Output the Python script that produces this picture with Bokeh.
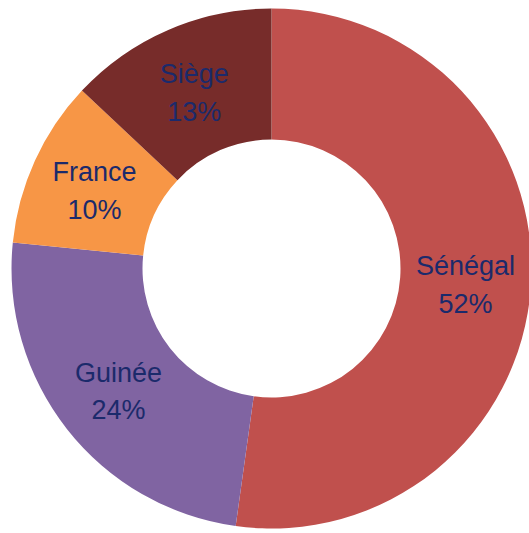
import math
from bokeh.plotting import figure
from bokeh.models import ColumnDataSource
from bokeh.core.properties import value
from bokeh.embed import file_html
from bokeh.resources import INLINE

categories = ["Sénégal", "Guinée", "France", "Siège"]
shares = [52.2, 24.4, 10.4, 13.0]
colors = ["#C0504D", "#8064A2", "#F79646", "#772C2A"]

W, H = 529, 533
cx, cy = 271, H - 268
r_out, r_in = 260, 129

total = sum(shares)
starts, ends, lx, ly, labels = [], [], [], [], []
cum = 0.0
for c, s in zip(categories, shares):
    a0 = math.pi / 2 - cum / total * 2 * math.pi
    cum += s
    a1 = math.pi / 2 - cum / total * 2 * math.pi
    starts.append(a0)
    ends.append(a1)
    mid = (a0 + a1) / 2
    rm = (r_out + r_in) / 2
    lx.append(cx + rm * math.cos(mid))
    ly.append(cy + rm * math.sin(mid) - 3)
    labels.append(f"{c}\n{round(s / total * 100):d}%")

src = ColumnDataSource(dict(start=starts, end=ends, color=colors,
                            lx=lx, ly=ly, label=labels))

p = figure(width=W, height=H, x_range=(0, W), y_range=(0, H),
           output_backend="svg", toolbar_location=None, min_border=0)
p.axis.visible = False
p.grid.visible = False
p.outline_line_color = None
p.background_fill_color = "white"

p.annular_wedge(x=cx, y=cy, inner_radius=r_in, outer_radius=r_out,
                start_angle="start", end_angle="end", direction="clock",
                fill_color="color", line_color=None, source=src)

p.text(x="lx", y="ly", text="label", source=src,
       text_font=value("Liberation Sans"), text_font_size="27px",
       text_color="#1B2A6B", text_align="center", text_baseline="middle",
       text_line_height=1.25)

open("out.html", "w").write(file_html(p, INLINE))
